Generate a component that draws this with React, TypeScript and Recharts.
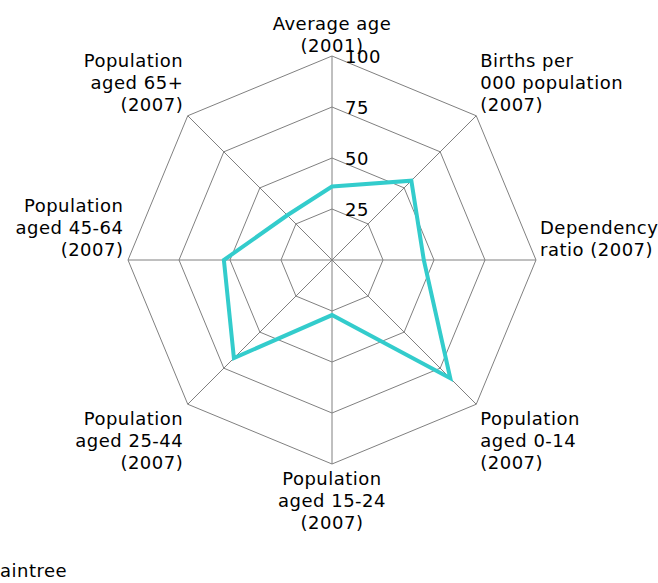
import { RadarChart, Radar, PolarGrid, PolarAngleAxis, PolarRadiusAxis } from 'recharts';

const categories = [
  'Average age (2001)',
  'Births per 000 population (2007)',
  'Dependency ratio (2007)',
  'Population aged 0-14 (2007)',
  'Population aged 15-24 (2007)',
  'Population aged 25-44 (2007)',
  'Population aged 45-64 (2007)',
  'Population aged 65+ (2007)',
];

const labelLines = [
  ['Average age', '(2001)'],
  ['Births per', '000 population', '(2007)'],
  ['Dependency', 'ratio (2007)'],
  ['Population', 'aged 0-14', '(2007)'],
  ['Population', 'aged 15-24', '(2007)'],
  ['Population', 'aged 25-44', '(2007)'],
  ['Population', 'aged 45-64', '(2007)'],
  ['Population', 'aged 65+', '(2007)'],
];

const braintree = [36, 55, 45, 82, 27, 68, 53, 31];
const radiusTicks = [0, 25, 50, 75, 100];

const chartData = categories.map((c, i) => ({ axis: c, value: braintree[i] }));

const CX = 332;
const CY = 260;
const R = 204;
const LINE_H = 22;
const FONT = { fontFamily: '"DejaVu Sans", Verdana, sans-serif', fontSize: 18, letterSpacing: 0.5 };

function AngleTick(props: any) {
  const i = categories.indexOf(props.payload.value);
  const lines = labelLines[i] ?? [props.payload.value];
  const a = ((90 - i * 45) * Math.PI) / 180;
  const vx = CX + R * Math.cos(a);
  const vy = CY - R * Math.sin(a);
  const dx = Math.cos(a);
  const dy = -Math.sin(a);

  let anchor: 'start' | 'middle' | 'end' = 'middle';
  let x = vx;
  if (dx > 0.1) { anchor = 'start'; x = vx + 4; }
  else if (dx < -0.1) { anchor = 'end'; x = vx - 4.5; }

  // upper half + sides: text sits above the vertex, lower half below it
  let firstY: number;
  if (dy <= 0.1) firstY = vy - 11 - (lines.length - 1) * LINE_H;
  else firstY = vy + 14.7;

  return (
    <text textAnchor={anchor} fill="#000" style={FONT}>
      {lines.map((l, k) => (
        <tspan key={k} x={x} y={firstY + k * LINE_H} dominantBaseline="central">{l}</tspan>
      ))}
    </text>
  );
}

function RadiusTick(props: any) {
  const { x, y, payload } = props;
  if (payload.value === 0) return null;
  return (
    <text x={x + 13} y={y} textAnchor="start" dominantBaseline="central" fill="#000" style={FONT}>
      {payload.value}
    </text>
  );
}

export default function App() {
  return (
    <div style={{ position: 'absolute', left: 0, top: 0, width: 658, height: 583, background: '#fff' }}>
      <RadarChart
        width={658}
        height={583}
        data={chartData}
        cx={CX}
        cy={CY}
        outerRadius={R}
        margin={{ top: 0, right: 0, bottom: 0, left: 0 }}
      >
        <PolarGrid gridType="polygon" stroke="#808080" strokeWidth={1} />
        <PolarAngleAxis dataKey="axis" tick={<AngleTick />} tickLine={false} axisLine={false} />
        <PolarRadiusAxis
          angle={90}
          domain={[0, 100]}
          ticks={radiusTicks}
          tick={<RadiusTick />}
          axisLine={false}
          tickLine={false}
        />
        <Radar
          dataKey="value"
          stroke="#33cccc"
          strokeWidth={4}
          fill="none"
          fillOpacity={0}
          dot={false}
          isAnimationActive={false}
        />
      </RadarChart>
      <div style={{ position: 'absolute', left: 0, top: 560, ...FONT, lineHeight: '22px', color: '#000' }}>
        aintree
      </div>
    </div>
  );
}
